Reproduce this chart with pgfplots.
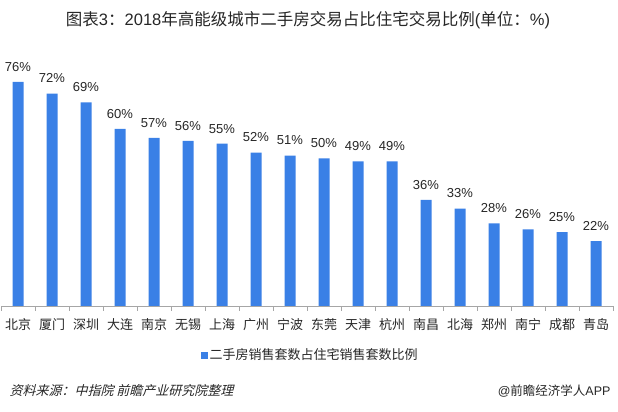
\documentclass[border=0pt]{standalone}
\usepackage{fontspec}
\setmainfont{Liberation Sans}
\newfontfamily\cjk{Noto Sans CJK SC}
\newfontfamily\cjkit[FakeSlant=0.25]{Noto Sans CJK SC}
\usepackage{pgfplots}
\pgfplotsset{compat=1.18}
\definecolor{barblue}{HTML}{3A80E6}
\definecolor{axisgray}{HTML}{A6A6A6}
\definecolor{txt}{HTML}{262626}

\begin{document}
\begin{tikzpicture}[x=1pt,y=1pt]
\useasboundingbox (0,0) rectangle (618,412);

% title
\node[text=txt, font=\fontsize{16.5}{16.5}\selectfont] at (308,392)
  {{\cjk 图表}3{\cjk ：}2018{\cjk 年高能级城市二手房交易占比住宅交易比例}({\cjk 单位：}\%)};

\begin{axis}[
    at={(1pt,106pt)}, anchor=south west,
    scale only axis, width=612pt, height=236pt,
    xmin=-0.5, xmax=17.5, ymin=0, ymax=80,
    axis y line=none, axis x line*=bottom,
    x axis line style={-, draw=axisgray},
    xtick={0,...,17},
    xticklabels={北京,厦门,深圳,大连,南京,无锡,上海,广州,宁波,东莞,天津,杭州,南昌,北海,郑州,南宁,成都,青岛},
    major tick length=0pt,
    xticklabel style={font=\cjk\fontsize{13}{13}\selectfont, text=txt, yshift=-9pt},
    extra x ticks={-0.5,0.5,...,17.5},
    extra x tick labels={},
    extra x tick style={major tick length=5pt, tick align=outside, tick style={draw=axisgray}},
    ybar, bar width=11pt,
    /pgf/number format/assume math mode=true,
    nodes near coords={\pgfmathprintnumber{\pgfplotspointmeta}\%},
    every node near coord/.append style={font=\fontsize{13}{13}\selectfont, text=txt, yshift=7pt},
    legend style={at={(0.505,-0.208)}, anchor=center, draw=none, fill=none,
        font=\cjk\fontsize{13}{13}\selectfont, text=txt},
    legend image code/.code={\fill[barblue] (0pt,-3.5pt) rectangle (7pt,3.5pt);},
]
\addplot[fill=barblue, draw=none] coordinates {
    (0,76) (1,72) (2,69) (3,60) (4,57) (5,56) (6,55) (7,52) (8,51)
    (9,50) (10,49) (11,49) (12,36) (13,33) (14,28) (15,26) (16,25) (17,22)
};
\addlegendentry{二手房销售套数占住宅销售套数比例}
\end{axis}

% footer
\node[anchor=west, text=txt, font=\cjkit\fontsize{13}{13}\selectfont] at (6,21)
  {资料来源：中指院 前瞻产业研究院整理};
\node[anchor=east, text=txt, font=\fontsize{12.5}{12.5}\selectfont] at (614,21)
  {@{\cjk 前瞻经济学人}APP};
\end{tikzpicture}
\end{document}
